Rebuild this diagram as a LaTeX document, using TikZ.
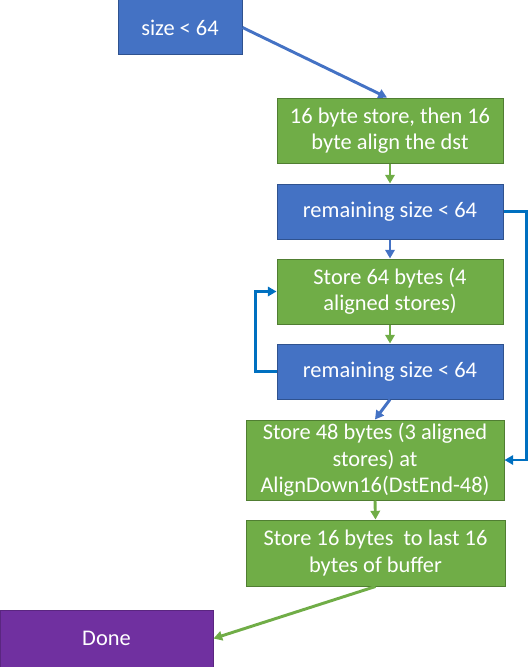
\documentclass[tikz,border=0pt]{standalone}
\usepackage{fontspec}
\setmainfont{Carlito}
\usetikzlibrary{arrows.meta}
\definecolor{bluefill}{HTML}{4472C4}
\definecolor{blueline}{HTML}{2F528F}
\definecolor{greenfill}{HTML}{70AD47}
\definecolor{greenline}{HTML}{507E32}
\definecolor{purplefill}{HTML}{7030A0}
\definecolor{loopblue}{HTML}{0070C0}
\tikzset{
  box/.style={rectangle, line width=0.75pt, text=white, align=center, inner sep=1pt,
    font=\fontsize{16.8}{19.8}\selectfont},
  bluebox/.style={box, fill=bluefill, draw=blueline},
  greenbox/.style={box, fill=greenfill, draw=greenline},
  purplebox/.style={box, fill=purplefill, draw=purplefill!80!black},
  conn/.style={line width=2.2pt, -{Triangle[length=6.5pt,width=7pt]}},
  bconn/.style={conn, draw=bluefill},
  lconn/.style={conn, draw=loopblue},
  gconn/.style={conn, draw=greenfill},
}
\begin{document}
\begin{tikzpicture}[x=0.75pt,y=-0.75pt]
\useasboundingbox (0,0) rectangle (528,667);
\node[bluebox, minimum width=93pt, minimum height=41.25pt] (n1) at (180,27.5) {size < 64};
\node[greenbox, minimum width=169.5pt, minimum height=48.75pt] (n2) at (390,130.5) {16 byte store, then 16\\byte align the dst};
\node[bluebox, minimum width=169.5pt, minimum height=41.25pt] (n3) at (390,211.5) {remaining size < 64};
\node[greenbox, minimum width=169.5pt, minimum height=48.75pt] (n4) at (390,291.5) {Store 64 bytes (4\\aligned stores)};
\node[bluebox, minimum width=169.5pt, minimum height=41.25pt] (n5) at (390,371.5) {remaining size < 64};
\node[greenbox, minimum width=193.5pt, minimum height=60pt] (n6) at (375,460) {Store 48 bytes (3 aligned\\stores) at\\AlignDown16(DstEnd-48)};
\node[greenbox, minimum width=194.25pt, minimum height=49.5pt] (n7) at (375.5,553) {Store 16 bytes\ \ to last 16\\bytes of buffer};
\node[purplebox, minimum width=159.75pt, minimum height=42.75pt] (n8) at (106.5,638.5) {Done};

\draw[bconn] (n1.east) -- ([xshift=-2.25pt]n2.north);
\draw[gconn] (n2.south) -- (n3.north);
\draw[bconn] (n3.south) -- (n4.north);
\draw[lconn] (n3.east) -- ++(23,0) |- (n6.east);
\draw[gconn] (n4.south) -- (n5.north);
\draw[lconn] (n5.west) -- ++(-21,0) |- (n4.west);
\draw[bconn] (n5.south) -- (n6.north);
\draw[gconn] (n6.south) -- (n7.north);
\draw[gconn] (n7.south) -- (n8.east);
\end{tikzpicture}
\end{document}
